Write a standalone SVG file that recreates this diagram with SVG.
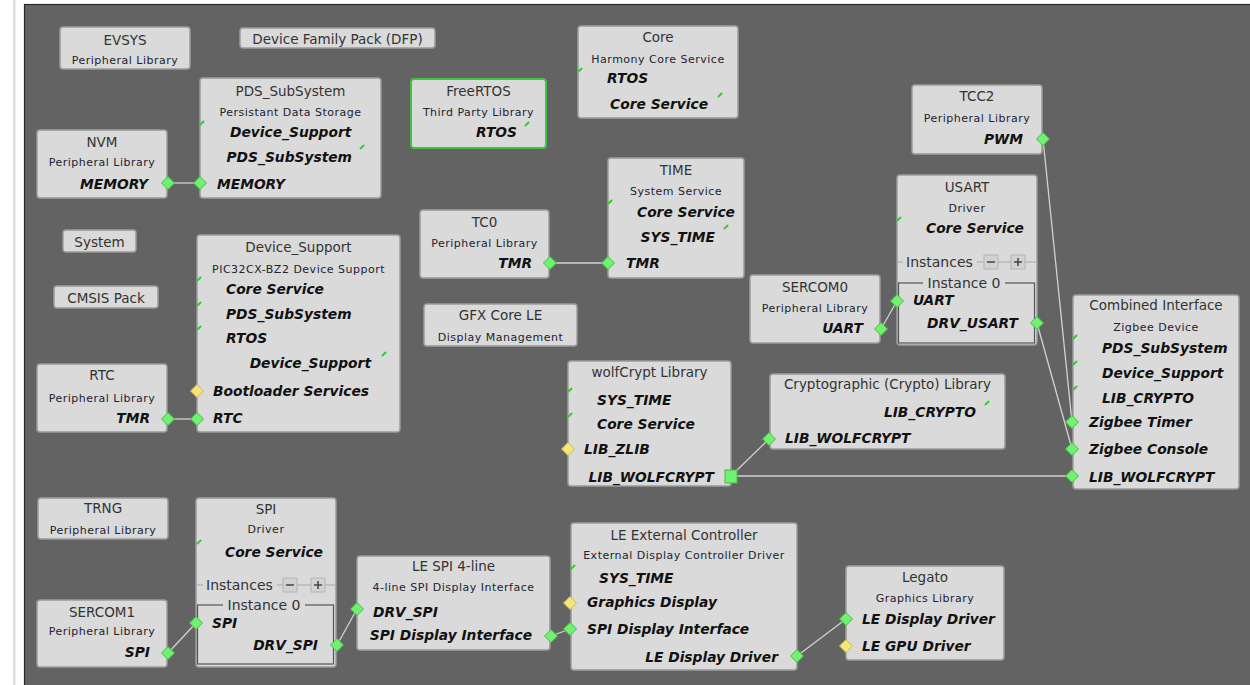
<svg xmlns="http://www.w3.org/2000/svg" xmlns:xlink="http://www.w3.org/1999/xlink" width="1250" height="685" viewBox="0 0 1250 685">
<style>
.n{fill:#dadada;stroke:#9c9c9c;stroke-width:1.5}
.fr{fill:#dadada;stroke:#3fc43f;stroke-width:2}
text{font-family:"DejaVu Sans","Liberation Sans",sans-serif}
.t{font-size:13.5px;fill:#333;text-anchor:middle}
.s{font-size:11px;fill:#222230;text-anchor:middle;letter-spacing:.5px}
.b{font-size:13.8px;font-weight:bold;font-style:italic;fill:#111}
.e{text-anchor:end}
.i{font-size:14px;fill:#333}
.c{stroke:#d2d2d2;stroke-width:1.3;fill:none}
.k{stroke:#2fcf2f;stroke-width:2;stroke-linecap:round}
.ib{fill:#d2d2d2;stroke:#b4b4b4;stroke-width:1}
.il{stroke:#555;stroke-width:1.2}
</style>
<defs>
<polygon id="dg" points="0,-6.5 6.5,0 0,6.5 -6.5,0" fill="#72f072" stroke="#3fbf3f" stroke-width="1"/>
<polygon id="dy" points="0,-6.5 6.5,0 0,6.5 -6.5,0" fill="#f4e57c" stroke="#cdbb4a" stroke-width="1"/>
<path id="tk" d="M-1.5,1.5 L1.5,-1.5" class="k"/>
</defs>
<rect x="0" y="0" width="1250" height="685" fill="#ffffff"/>
<rect x="13" y="0" width="2.5" height="685" fill="#dedede"/>
<rect x="24.5" y="4.5" width="1230" height="690" fill="#636363" stroke="#2a2a2a" stroke-width="1.2"/>

<g id="connectors">
<line class="c" x1="168" y1="183" x2="200" y2="183"/>
<line class="c" x1="168" y1="419" x2="197" y2="419"/>
<line class="c" x1="550" y1="263" x2="608" y2="263"/>
<line class="c" x1="881" y1="329" x2="897" y2="301"/>
<line class="c" x1="1043" y1="139" x2="1072" y2="422"/>
<line class="c" x1="1037" y1="323" x2="1072" y2="449"/>
<line class="c" x1="731" y1="476" x2="1072" y2="476"/>
<line class="c" x1="731" y1="476" x2="769" y2="439"/>
<line class="c" x1="168" y1="653" x2="196" y2="623"/>
<line class="c" x1="337" y1="645" x2="357" y2="609"/>
<line class="c" x1="551" y1="636" x2="570" y2="629"/>
<line class="c" x1="797" y1="656" x2="846" y2="619"/>
</g>

<g id="evsys">
<rect class="n" x="60" y="27" width="130" height="42" rx="3"/>
<text class="t" x="125" y="45">EVSYS</text>
<text class="s" x="125" y="64">Peripheral Library</text>
</g>

<g id="dfp">
<rect class="n" x="240" y="28" width="195" height="20" rx="3"/>
<text class="t" x="337.5" y="43.5">Device Family Pack (DFP)</text>
</g>

<g id="pds">
<rect class="n" x="200" y="78" width="181" height="120" rx="3"/>
<text class="t" x="290.5" y="96">PDS_SubSystem</text>
<text class="s" x="290.5" y="116">Persistant Data Storage</text>
<use xlink:href="#tk" x="202" y="123"/>
<text class="b" x="230" y="137">Device_Support</text>
<use xlink:href="#tk" x="362" y="147"/>
<text class="b e" x="352" y="162">PDS_SubSystem</text>
<use xlink:href="#dg" x="200" y="183"/>
<text class="b" x="217" y="189">MEMORY</text>
</g>

<g id="nvm">
<rect class="n" x="37" y="130" width="130" height="68" rx="3"/>
<text class="t" x="102" y="147">NVM</text>
<text class="s" x="102" y="166">Peripheral Library</text>
<text class="b e" x="148" y="189">MEMORY</text>
<use xlink:href="#dg" x="168" y="183"/>
</g>

<g id="freertos">
<rect class="fr" x="411" y="79" width="135" height="69" rx="3"/>
<text class="t" x="478.5" y="96">FreeRTOS</text>
<text class="s" x="478.5" y="116">Third Party Library</text>
<text class="b e" x="517" y="137">RTOS</text>
<use xlink:href="#tk" x="527" y="124"/>
</g>

<g id="core">
<rect class="n" x="578" y="26" width="160" height="92" rx="3"/>
<text class="t" x="658" y="42">Core</text>
<text class="s" x="658" y="63">Harmony Core Service</text>
<use xlink:href="#tk" x="580" y="70"/>
<text class="b" x="607" y="83">RTOS</text>
<text class="b e" x="708" y="109">Core Service</text>
<use xlink:href="#tk" x="720" y="95"/>
</g>

<g id="tcc2">
<rect class="n" x="912" y="85" width="130" height="69" rx="3"/>
<text class="t" x="977" y="101">TCC2</text>
<text class="s" x="977" y="122">Peripheral Library</text>
<text class="b e" x="1023" y="144">PWM</text>
<use xlink:href="#dg" x="1043" y="139"/>
</g>

<g id="time">
<rect class="n" x="608" y="158" width="136" height="120" rx="3"/>
<text class="t" x="676" y="175">TIME</text>
<text class="s" x="676" y="195">System Service</text>
<use xlink:href="#tk" x="610" y="202"/>
<text class="b" x="637" y="217">Core Service</text>
<text class="b e" x="715" y="242">SYS_TIME</text>
<use xlink:href="#tk" x="726" y="227"/>
<use xlink:href="#dg" x="608" y="263"/>
<text class="b" x="626" y="268">TMR</text>
</g>

<g id="tc0">
<rect class="n" x="420" y="210" width="129" height="68" rx="3"/>
<text class="t" x="484.5" y="227">TC0</text>
<text class="s" x="484.5" y="247">Peripheral Library</text>
<text class="b e" x="532" y="268">TMR</text>
<use xlink:href="#dg" x="550" y="263"/>
</g>

<g id="system">
<rect class="n" x="63" y="230" width="73" height="22" rx="3"/>
<text class="t" x="99.5" y="246.5">System</text>
</g>

<g id="cmsis">
<rect class="n" x="54" y="286" width="104" height="22" rx="3"/>
<text class="t" x="106" y="302.5">CMSIS Pack</text>
</g>

<g id="device_support">
<rect class="n" x="197" y="235" width="203" height="197" rx="3"/>
<text class="t" x="298.5" y="252">Device_Support</text>
<text class="s" x="298.5" y="273">PIC32CX-BZ2 Device Support</text>
<use xlink:href="#tk" x="199" y="279"/>
<text class="b" x="226" y="294">Core Service</text>
<use xlink:href="#tk" x="199" y="304"/>
<text class="b" x="226" y="319">PDS_SubSystem</text>
<use xlink:href="#tk" x="199" y="328"/>
<text class="b" x="226" y="343">RTOS</text>
<text class="b e" x="371" y="368">Device_Support</text>
<use xlink:href="#tk" x="384" y="354"/>
<use xlink:href="#dy" x="197" y="391"/>
<text class="b" x="213" y="396">Bootloader Services</text>
<use xlink:href="#dg" x="197" y="419"/>
<text class="b" x="213" y="423">RTC</text>
</g>

<g id="rtc">
<rect class="n" x="37" y="364" width="130" height="68" rx="3"/>
<text class="t" x="102" y="380">RTC</text>
<text class="s" x="102" y="402">Peripheral Library</text>
<text class="b e" x="150" y="423">TMR</text>
<use xlink:href="#dg" x="168" y="419"/>
</g>

<g id="gfx">
<rect class="n" x="424" y="304" width="153" height="42" rx="3"/>
<text class="t" x="500.5" y="320">GFX Core LE</text>
<text class="s" x="500.5" y="341">Display Management</text>
</g>

<g id="usart">
<rect class="n" x="897" y="175" width="140" height="170" rx="3"/>
<text class="t" x="967" y="192">USART</text>
<text class="s" x="967" y="212">Driver</text>
<use xlink:href="#tk" x="899" y="219"/>
<text class="b" x="926" y="233">Core Service</text>
<line x1="898" y1="262" x2="1036" y2="262" stroke="#a8a8a8" stroke-width="1"/>
<rect x="903" y="254" width="74" height="16" fill="#dadada"/>
<text class="i" x="906" y="267">Instances</text>
<rect class="ib" x="984" y="255" width="14" height="14"/>
<line x1="987" y1="262" x2="995" y2="262" stroke="#444" stroke-width="1.5"/>
<rect class="ib" x="1011" y="255" width="14" height="14"/>
<line x1="1014" y1="262" x2="1022" y2="262" stroke="#444" stroke-width="1.5"/>
<line x1="1018" y1="258" x2="1018" y2="266" stroke="#444" stroke-width="1.5"/>
<rect x="898.5" y="283" width="136" height="60" fill="none" class="il"/>
<rect x="923" y="276" width="82" height="14" fill="#dadada"/>
<text class="i" x="964" y="288" text-anchor="middle">Instance 0</text>
<use xlink:href="#dg" x="897" y="301"/>
<text class="b" x="913" y="305">UART</text>
<text class="b e" x="1018" y="328">DRV_USART</text>
<use xlink:href="#dg" x="1037" y="323"/>
</g>

<g id="sercom0">
<rect class="n" x="750" y="275" width="130" height="68" rx="3"/>
<text class="t" x="815" y="292">SERCOM0</text>
<text class="s" x="815" y="312">Peripheral Library</text>
<text class="b e" x="863" y="333">UART</text>
<use xlink:href="#dg" x="881" y="329"/>
</g>

<g id="combined">
<rect class="n" x="1073" y="295" width="166" height="194" rx="3"/>
<text class="t" x="1156" y="310">Combined Interface</text>
<text class="s" x="1156" y="331">Zigbee Device</text>
<use xlink:href="#tk" x="1075" y="337"/>
<text class="b" x="1102" y="353">PDS_SubSystem</text>
<use xlink:href="#tk" x="1075" y="363"/>
<text class="b" x="1102" y="378">Device_Support</text>
<use xlink:href="#tk" x="1075" y="388"/>
<text class="b" x="1102" y="403">LIB_CRYPTO</text>
<use xlink:href="#dg" x="1072" y="422"/>
<text class="b" x="1089" y="427">Zigbee Timer</text>
<use xlink:href="#dg" x="1072" y="449"/>
<text class="b" x="1089" y="454">Zigbee Console</text>
<use xlink:href="#dg" x="1072" y="476"/>
<text class="b" x="1089" y="482">LIB_WOLFCRYPT</text>
</g>

<g id="wolfcrypt">
<rect class="n" x="568" y="361" width="163" height="125" rx="3"/>
<text class="t" x="649.5" y="377">wolfCrypt Library</text>
<use xlink:href="#tk" x="570" y="390"/>
<text class="b" x="597" y="405">SYS_TIME</text>
<use xlink:href="#tk" x="570" y="415"/>
<text class="b" x="597" y="429">Core Service</text>
<use xlink:href="#dy" x="568" y="449"/>
<text class="b" x="584" y="454">LIB_ZLIB</text>
<text class="b e" x="714" y="482">LIB_WOLFCRYPT</text>
<rect x="725" y="470" width="12" height="13" fill="#72f072" stroke="#3fbf3f" stroke-width="1"/>
</g>

<g id="crypto">
<rect class="n" x="770" y="374" width="235" height="75" rx="3"/>
<text class="t" x="887.5" y="389">Cryptographic (Crypto) Library</text>
<text class="b e" x="976" y="417">LIB_CRYPTO</text>
<use xlink:href="#tk" x="987" y="403"/>
<use xlink:href="#dg" x="769" y="439"/>
<text class="b" x="785" y="443">LIB_WOLFCRYPT</text>
</g>

<g id="trng">
<rect class="n" x="38" y="498" width="130" height="41" rx="3"/>
<text class="t" x="103" y="513">TRNG</text>
<text class="s" x="103" y="534">Peripheral Library</text>
</g>

<g id="spi">
<rect class="n" x="196" y="498" width="140" height="169" rx="3"/>
<text class="t" x="266" y="514">SPI</text>
<text class="s" x="266" y="533">Driver</text>
<use xlink:href="#tk" x="199" y="542"/>
<text class="b" x="225" y="557">Core Service</text>
<line x1="197" y1="585" x2="335" y2="585" stroke="#a8a8a8" stroke-width="1"/>
<rect x="203" y="577" width="74" height="16" fill="#dadada"/>
<text class="i" x="206" y="590">Instances</text>
<rect class="ib" x="283" y="578" width="14" height="14"/>
<line x1="286" y1="585" x2="294" y2="585" stroke="#444" stroke-width="1.5"/>
<rect class="ib" x="311" y="578" width="14" height="14"/>
<line x1="314" y1="585" x2="322" y2="585" stroke="#444" stroke-width="1.5"/>
<line x1="318" y1="581" x2="318" y2="589" stroke="#444" stroke-width="1.5"/>
<rect x="197.5" y="605" width="136" height="59" fill="none" class="il"/>
<rect x="223" y="598" width="82" height="14" fill="#dadada"/>
<text class="i" x="264" y="610" text-anchor="middle">Instance 0</text>
<use xlink:href="#dg" x="196" y="623"/>
<text class="b" x="212" y="628">SPI</text>
<text class="b e" x="318" y="650">DRV_SPI</text>
<use xlink:href="#dg" x="337" y="645"/>
</g>

<g id="sercom1">
<rect class="n" x="37" y="600" width="130" height="67" rx="3"/>
<text class="t" x="102" y="617">SERCOM1</text>
<text class="s" x="102" y="635">Peripheral Library</text>
<text class="b e" x="150" y="657">SPI</text>
<use xlink:href="#dg" x="168" y="653"/>
</g>

<g id="lespi">
<rect class="n" x="357" y="556" width="193" height="94" rx="3"/>
<text class="t" x="453.5" y="571">LE SPI 4-line</text>
<text class="s" x="453.5" y="591">4-line SPI Display Interface</text>
<use xlink:href="#dg" x="357" y="609"/>
<text class="b" x="373" y="617">DRV_SPI</text>
<text class="b e" x="532" y="640">SPI Display Interface</text>
<use xlink:href="#dg" x="551" y="636"/>
</g>

<g id="leext">
<rect class="n" x="571" y="523" width="226" height="147" rx="3"/>
<text class="t" x="684" y="540">LE External Controller</text>
<text class="s" x="684" y="559">External Display Controller Driver</text>
<use xlink:href="#tk" x="573" y="567"/>
<text class="b" x="599" y="583">SYS_TIME</text>
<use xlink:href="#dy" x="570" y="603"/>
<text class="b" x="587" y="607">Graphics Display</text>
<use xlink:href="#dg" x="570" y="629"/>
<text class="b" x="587" y="634">SPI Display Interface</text>
<text class="b e" x="778" y="662">LE Display Driver</text>
<use xlink:href="#dg" x="797" y="656"/>
</g>

<g id="legato">
<rect class="n" x="846" y="566" width="158" height="94" rx="3"/>
<text class="t" x="925" y="582">Legato</text>
<text class="s" x="925" y="602">Graphics Library</text>
<use xlink:href="#dg" x="846" y="619"/>
<text class="b" x="862" y="624">LE Display Driver</text>
<use xlink:href="#dy" x="846" y="646"/>
<text class="b" x="862" y="651">LE GPU Driver</text>
</g>
</svg>
